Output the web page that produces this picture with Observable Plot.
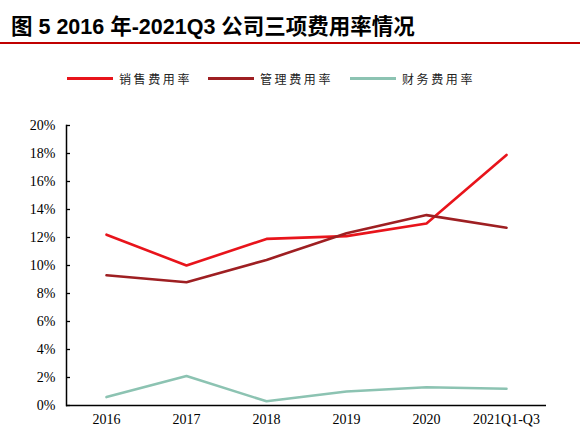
<!DOCTYPE html>
<html>
<head>
<meta charset="utf-8">
<script src="https://cdn.jsdelivr.net/npm/d3@7"></script>
<script src="https://cdn.jsdelivr.net/npm/@observablehq/plot@0.6"></script>
<style>
  body { margin: 0; width: 580px; height: 440px; background: #fff; position: relative; overflow: hidden; }
  #title {
    position: absolute; left: 0; top: 0; width: 580px; height: 44px;
    border-bottom: 2px solid #c00000;
    font-family: "Liberation Sans", "Noto Sans CJK SC", sans-serif;
    font-weight: bold; font-size: 21.5px; color: #000;
    box-sizing: border-box; padding-left: 11px; padding-top: 15px; line-height: 24px;
  }
  #legend {
    position: absolute; left: 0; top: 68px; width: 580px; height: 20px;
    font-family: "Noto Sans CJK SC", sans-serif; font-size: 12px; letter-spacing: 2.6px; color: #222;
  }
  .item { position: absolute; top: 0; display: flex; align-items: center; height: 20px; }
  .swatch { width: 46px; height: 3px; margin-right: 6px; }
  #chart { position: absolute; left: 0; top: 100px; }
</style>
</head>
<body>
<div id="title">图 5 2016 年-2021Q3 公司三项费用率情况</div>
<div id="legend"></div>
<div id="chart"></div>
<script>
const years = ["2016", "2017", "2018", "2019", "2020", "2021Q1-Q3"]
const seriesNames = ["销售费用率", "管理费用率", "财务费用率"]
const salesRate = [12.2, 10.0, 11.9, 12.1, 13.0, 17.9]
const adminRate = [9.3, 8.8, 10.4, 12.3, 13.6, 12.7]
const financeRate = [0.6, 2.1, 0.3, 1.0, 1.3, 1.2]
const colors = ["#e8141b", "#9e1f22", "#8cc3b2"]
const yTicks = [0, 2, 4, 6, 8, 10, 12, 14, 16, 18, 20]

const allSeries = [salesRate, adminRate, financeRate]
const data = []
allSeries.forEach((vals, s) => {
  vals.forEach((v, i) => data.push({year: years[i], value: v, series: seriesNames[s]}))
})

// legend
const legendLeft = [67, 208, 350]
const legend = d3.select('#legend')
seriesNames.forEach((name, i) => {
  const item = legend.append('div').attr('class', 'item').style('left', legendLeft[i] + 'px')
  item.append('div').attr('class', 'swatch').style('background', colors[i])
  item.append('span').text(name)
})

const chart = Plot.plot({
  width: 580,
  height: 340,
  marginTop: 25,
  marginBottom: 35,
  marginLeft: 66,
  marginRight: 34,
  style: {fontFamily: "'Liberation Serif', 'Times New Roman', serif", fontSize: "14px", color: "#000"},
  x: {type: "point", domain: years, padding: 0.5, label: null},
  y: {domain: [0, 20], label: null},
  color: {domain: seriesNames, range: colors},
  marks: [
    Plot.axisX({tickSize: 0, tickPadding: 9, fontSize: 14}),
    Plot.axisY({ticks: yTicks, tickSize: -4, text: null, strokeWidth: 1.3}),
    Plot.axisY({ticks: yTicks, tickSize: 0, tickPadding: 11, tickFormat: d => d + "%", fontSize: 14}),
    Plot.frame({anchor: "left", stroke: "#000", strokeWidth: 1.5}),
    Plot.ruleY([0], {stroke: "#000", strokeWidth: 1.5}),
    Plot.line(data, {x: "year", y: "value", z: "series", stroke: "series", strokeWidth: 2.6})
  ]
})

d3.select('#chart').append(() => chart)
</script>
</body>
</html>
